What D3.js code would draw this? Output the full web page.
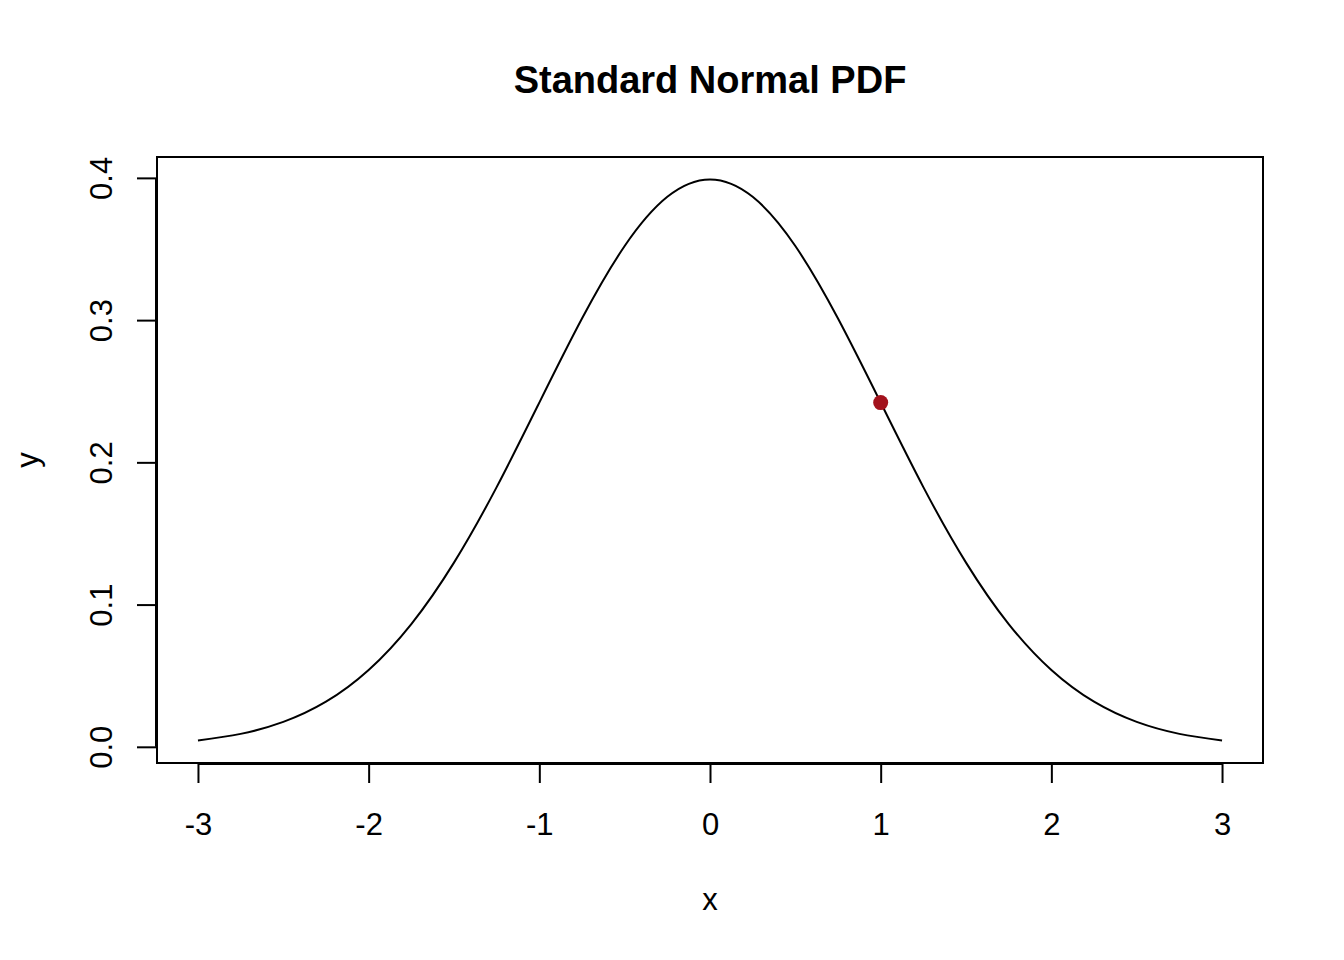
<!DOCTYPE html>
<html>
<head>
<meta charset="utf-8">
<script src="https://cdn.jsdelivr.net/npm/d3@7"></script>
<style>
  body { margin: 0; background: #fff; }
  text { font-family: "Liberation Sans", Arial, sans-serif; fill: #000; }
</style>
</head>
<body>
<svg width="1344" height="960"></svg>
<script>
// curve, every 0.25 in x
var xs = [-3, -2.75, -2.5, -2.25, -2, -1.75, -1.5, -1.25, -1, -0.75, -0.5, -0.25,
          0, 0.25, 0.5, 0.75, 1, 1.25, 1.5, 1.75, 2, 2.25, 2.5, 2.75, 3];
var ys = [0.0044, 0.0091, 0.0175, 0.0317, 0.0540, 0.0863, 0.1295, 0.1826, 0.2420, 0.3011, 0.3521, 0.3867,
          0.3989, 0.3867, 0.3521, 0.3011, 0.2420, 0.1826, 0.1295, 0.0863, 0.0540, 0.0317, 0.0175, 0.0091, 0.0044];
var marker = [{x: 1, y: 0.2420}];
var xTicks = [-3, -2, -1, 0, 1, 2, 3];
var yTicks = [0.0, 0.1, 0.2, 0.3, 0.4];

var svg = d3.select("svg");
var BOX = {left: 157, right: 1263, top: 157, bottom: 763};
var FONT = 31;

var values = xs.map(function(x, i) { return {x: x, y: ys[i]}; });

// R-style 4% padding on the data range
function padded(ext) {
    var d = (ext[1] - ext[0]) * 0.04;
    return [ext[0] - d, ext[1] + d];
}
var x = d3.scaleLinear().domain(padded(d3.extent(xs))).range([BOX.left, BOX.right]);
var y = d3.scaleLinear().domain(padded(d3.extent(ys))).range([BOX.bottom, BOX.top]);

var line = d3.line()
    .curve(d3.curveNatural)
    .x(function(d) { return x(d.x); })
    .y(function(d) { return y(d.y); });

svg.append("path")
    .datum(values)
    .attr("d", line)
    .attr("fill", "none")
    .attr("stroke", "#000")
    .attr("stroke-width", 2);

svg.selectAll("circle.pt")
    .data(marker)
    .enter().append("circle")
    .attr("class", "pt")
    .attr("cx", function(d) { return x(d.x); })
    .attr("cy", function(d) { return y(d.y); })
    .attr("r", 7.5)
    .attr("fill", "#a3121c");

// box
svg.append("rect")
    .attr("x", BOX.left).attr("y", BOX.top)
    .attr("width", BOX.right - BOX.left).attr("height", BOX.bottom - BOX.top)
    .attr("fill", "none").attr("stroke", "#000").attr("stroke-width", 2);

// x axis
var xa = svg.append("g")
    .attr("transform", "translate(0," + (BOX.bottom + 1) + ")")
    .call(d3.axisBottom(x).tickValues(xTicks).tickSize(19)
        .tickFormat(d3.format("d")));
xa.select(".domain")
    .attr("d", "M" + x(xTicks[0]) + ",0H" + x(xTicks[xTicks.length - 1]))
    .attr("stroke-width", 2);
xa.selectAll(".tick line").attr("stroke-width", 2);
xa.selectAll(".tick text")
    .attr("font-size", FONT)
    .attr("font-family", "Liberation Sans, Arial, sans-serif")
    .attr("y", 71).attr("dy", null)
    .text(function(d) { return d < 0 ? "-" + Math.abs(d) : d; });

// y axis
var ya = svg.append("g")
    .attr("transform", "translate(" + (BOX.left - 1) + ",0)")
    .call(d3.axisLeft(y).tickValues(yTicks).tickSize(19).tickFormat(d3.format(".1f")));
ya.select(".domain")
    .attr("d", "M0," + y(yTicks[0]) + "V" + y(yTicks[yTicks.length - 1]))
    .attr("stroke-width", 2);
ya.selectAll(".tick line").attr("stroke-width", 2);
ya.selectAll(".tick text")
    .attr("font-size", FONT)
    .attr("font-family", "Liberation Sans, Arial, sans-serif")
    .attr("x", null).attr("dy", null)
    .attr("text-anchor", "middle")
    .attr("transform", "translate(-44,0) rotate(-90)");

// titles
svg.append("text")
    .attr("x", (BOX.left + BOX.right) / 2).attr("y", 93)
    .attr("text-anchor", "middle")
    .attr("font-size", 38).attr("font-weight", "bold")
    .text("Standard Normal PDF");

svg.append("text")
    .attr("x", (BOX.left + BOX.right) / 2).attr("y", 910)
    .attr("text-anchor", "middle")
    .attr("font-size", FONT)
    .text("x");

svg.append("text")
    .attr("transform", "translate(38," + (BOX.top + BOX.bottom) / 2 + ") rotate(-90)")
    .attr("text-anchor", "middle")
    .attr("font-size", FONT)
    .text("y");
</script>
</body>
</html>
